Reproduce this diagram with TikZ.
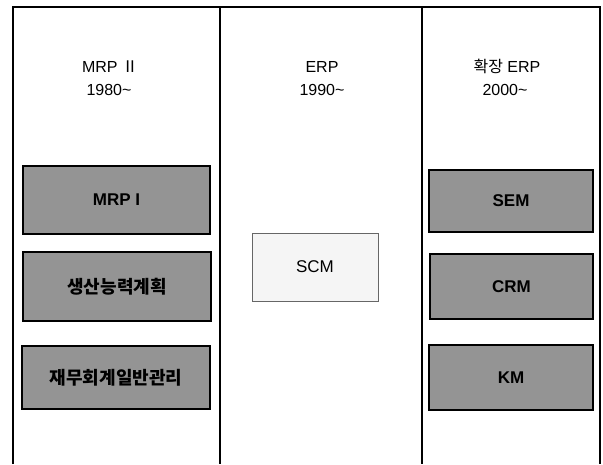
\documentclass[tikz,border=0pt]{standalone}
\usepackage{fontspec}
\setmainfont{Liberation Sans}
\newfontfamily\kr{Noto Sans CJK KR}
\begin{document}
\begin{tikzpicture}[x=1pt,y=-1pt,
  frame/.style={line width=1.6pt},
  title/.style={font=\fontsize{16}{23}\selectfont, anchor=base, inner sep=0pt},
  dark/.style={draw=black, line width=1.3pt, fill=black!42, font=\fontsize{17}{20}\selectfont\bfseries, inner sep=0pt},
  light/.style={draw=black!60, line width=0.6pt, fill=black!4, font=\fontsize{17}{20}\selectfont, inner sep=0pt}]
\useasboundingbox (0,0) rectangle (603,464);
% frame and column dividers
\coordinate (bl) at (13,464);
\coordinate (tl) at (13,7);
\coordinate (tr) at (600,7);
\coordinate (br) at (600,464);
\coordinate (d1t) at (220,7);
\coordinate (d1b) at (220,464);
\coordinate (d2t) at (422,7);
\coordinate (d2b) at (422,464);
\draw[frame] (bl) -- (tl) -- (tr) -- (br);
\draw[frame] (d1t) -- (d1b);
\draw[frame] (d2t) -- (d2b);
% titles
\node[title] (t1a) at (110,72) {MRP {\kr Ⅱ}};
\node[title] (t1b) at (109,95) {1980\char`~};
\node[title] (t2a) at (322,72) {ERP};
\node[title] (t2b) at (322,95) {1990\char`~};
\node[title] (t3a) at (507,72) {{\kr 확장} ERP};
\node[title] (t3b) at (505,95) {2000\char`~};
% column 1
\node[dark, minimum width=187pt, minimum height=68pt] (mrp1) at (116.5,200) {MRP I};
\node[dark, minimum width=188pt, minimum height=69pt] (cap) at (117,286.5) {\kr\fontsize{18}{20}\selectfont 생산능력계획};
\node[dark, minimum width=188pt, minimum height=63pt] (fin) at (116,377.5) {\kr\fontsize{18}{20}\selectfont 재무회계일반관리};
% column 2
\node[light, minimum width=126pt, minimum height=68pt] (scm) at (315,267) {SCM};
% column 3
\node[dark, minimum width=164pt, minimum height=62pt] (sem) at (511,201) {SEM};
\node[dark, minimum width=163pt, minimum height=65pt] (crm) at (511.5,286.5) {CRM};
\node[dark, minimum width=164pt, minimum height=65pt] (km) at (511,377.5) {KM};
\end{tikzpicture}
\end{document}
